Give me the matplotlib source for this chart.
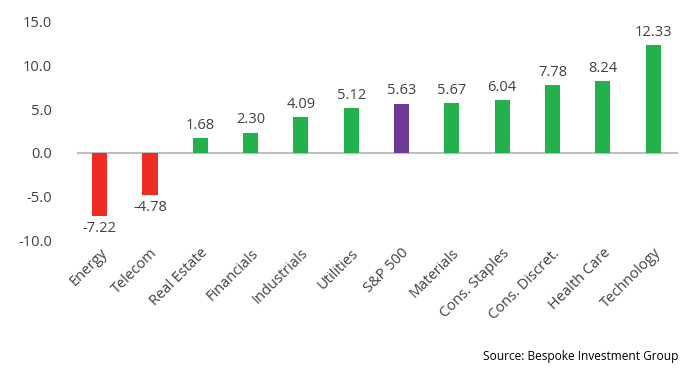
import matplotlib.pyplot as plt

plt.rcParams['font.family'] = ['Open Sans', 'DejaVu Sans']

# data
sectors = ['Energy', 'Telecom', 'Real Estate', 'Financials', 'Industrials', 'Utilities',
           'S&P 500', 'Materials', 'Cons. Staples', 'Cons. Discret.', 'Health Care', 'Technology']
values = [-7.22, -4.78, 1.68, 2.30, 4.09, 5.12, 5.63, 5.67, 6.04, 7.78, 8.24, 12.33]

green = '#22B14C'
red = '#EE2C24'
purple = '#6F3996'
colors = []
for s, v in zip(sectors, values):
    if s == 'S&P 500':
        colors.append(purple)
    elif v < 0:
        colors.append(red)
    else:
        colors.append(green)

fig = plt.figure(figsize=(7, 3.91), dpi=100)
ax = fig.add_axes([0.11, 0.386, 0.859, 0.558])

x = range(len(sectors))
ax.bar(x, values, width=0.3, color=colors, zorder=3)
ax.axhline(0, color='#BFBFBF', linewidth=1.5, zorder=2)

# value labels
for i, v in enumerate(values):
    if v >= 0:
        ax.text(i, v + 0.6, f'{v:.2f}', ha='center', va='bottom', fontsize=10.5, color='#404040')
    else:
        ax.text(i, v - 0.6, f'{v:.2f}', ha='center', va='top', fontsize=10.5, color='#404040')

ax.set_ylim(-10, 15)
ax.set_xlim(-0.45, len(sectors) - 0.5)
ax.set_yticks([-10, -5, 0, 5, 10, 15])
ax.set_yticklabels([f'{t:.1f}' for t in [-10, -5, 0, 5, 10, 15]])
ax.set_xticks(list(x))
ax.set_xticklabels(sectors, rotation=45, ha='right', rotation_mode='anchor')
ax.tick_params(axis='both', length=0, labelsize=10.5, labelcolor='#404040')
ax.tick_params(axis='y', pad=18)
ax.tick_params(axis='x', pad=4)
for sp in ax.spines.values():
    sp.set_visible(False)

fig.text(0.969, 0.087, 'Source: Bespoke Investment Group', ha='right', va='center',
         fontsize=8.6, color='black')

fig.savefig('out.png', dpi=100, facecolor='white')
